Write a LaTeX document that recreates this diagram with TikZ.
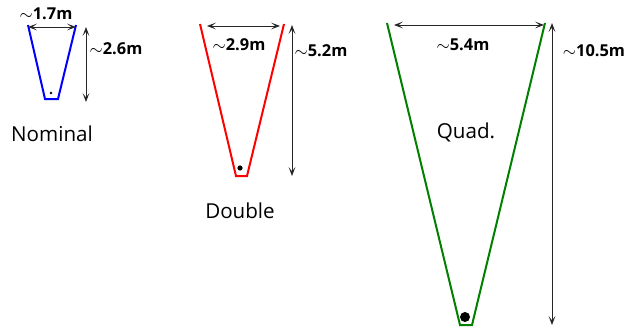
\documentclass[tikz,border=0pt]{standalone}
\usepackage{fontspec}
\setmainfont{Open Sans}
\usetikzlibrary{arrows.meta, positioning}

\tikzset{
  cone/.style={line width=1pt, line join=miter},
  dimline/.style={<->, line width=0.5pt, black!85},
  dimlabel/.style={font=\fontsize{8.2}{9}\selectfont\bfseries, inner sep=0pt},
  caption/.style={font=\fontsize{10.3}{12}\selectfont, inner sep=0pt}
}

\begin{document}
\begin{tikzpicture}[x=0.5pt, y=-0.5pt, >={Stealth[length=4.5pt, width=3.4pt, inset=2.2pt]}]
  \useasboundingbox (0,0) rectangle (626,327);

  % Nominal
  \coordinate (n1) at (28,25);
  \coordinate (n2) at (45,99);
  \coordinate (n3) at (58,99);
  \coordinate (n4) at (76,25);
  \draw[cone, blue] (n1) -- (n2) -- (n3) -- (n4);
  \fill (51,93) circle (1.4);
  \coordinate (nwl) at (28,27);
  \coordinate (nwr) at (76,27);
  \draw[dimline] (nwl) -- (nwr);
  \coordinate (nht) at (86,27);
  \coordinate (nhb) at (86,102);
  \draw[dimline] (nht) -- (nhb);
  \node[dimlabel] (nomw) at (46,14) {$\sim$1.7m};
  \node[dimlabel] (nomh) at (116,49) {$\sim$2.6m};
  \node[caption] (nom) at (52,134) {Nominal};

  % Double
  \coordinate (d1) at (200,24);
  \coordinate (d2) at (236,176);
  \coordinate (d3) at (247,176);
  \coordinate (d4) at (284,24);
  \draw[cone, red] (d1) -- (d2) -- (d3) -- (d4);
  \fill (240,168) circle (2.6);
  \coordinate (dwl) at (207,26);
  \coordinate (dwr) at (280,26);
  \draw[dimline] (dwl) -- (dwr);
  \coordinate (dht) at (292,25);
  \coordinate (dhb) at (292,176);
  \draw[dimline] (dht) -- (dhb);
  \node[dimlabel] (dblw) at (239,45) {$\sim$2.9m};
  \node[dimlabel] (dblh) at (321,51) {$\sim$5.2m};
  \node[caption] (dbl) at (240,211) {Double};

  % Quad.
  \coordinate (q1) at (387,23);
  \coordinate (q2) at (460,325);
  \coordinate (q3) at (472,325);
  \coordinate (q4) at (545,23);
  \draw[cone, green!50!black] (q1) -- (q2) -- (q3) -- (q4);
  \fill (465,317) circle (5);
  \coordinate (qwl) at (394,25);
  \coordinate (qwr) at (544,25);
  \draw[dimline] (qwl) -- (qwr);
  \coordinate (qht) at (552,23);
  \coordinate (qhb) at (552,325);
  \draw[dimline] (qht) -- (qhb);
  \node[dimlabel] (quadw) at (463,45) {$\sim$5.4m};
  \node[dimlabel] (quadh) at (594,51) {$\sim$10.5m};
  \node[caption] (quad) at (466,132) {Quad.};
\end{tikzpicture}
\end{document}
